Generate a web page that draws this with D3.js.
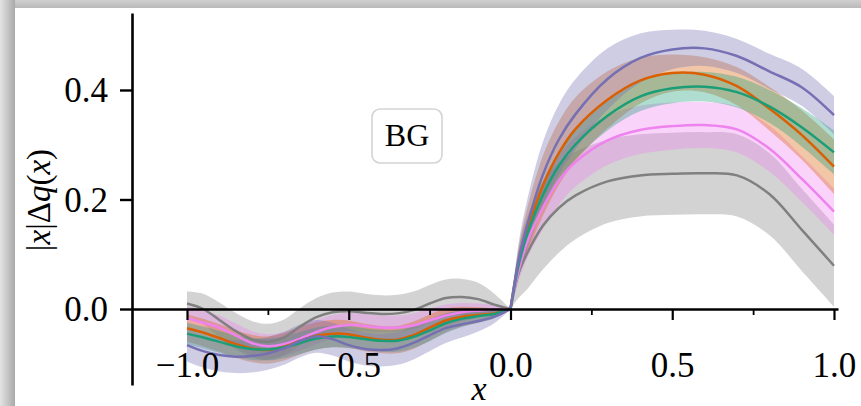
<!DOCTYPE html>
<html>
<head>
<meta charset="utf-8">
<script src="https://cdn.jsdelivr.net/npm/d3@7"></script>
<style>
  html, body { margin: 0; padding: 0; background: #fff; overflow: hidden; }
  svg { display: block; }
  text { font-family: "Liberation Serif", "DejaVu Serif", serif; fill: #000; }
</style>
</head>
<body>
<svg id="chart"></svg>
<script>
// x grid shared by every curve
const xs = [-1, -0.95, -0.9, -0.85, -0.8, -0.75, -0.7, -0.65, -0.6, -0.55, -0.5,
            -0.45, -0.4, -0.35, -0.3, -0.25, -0.2, -0.15, -0.1, -0.05, 0,
            0.025, 0.05, 0.1, 0.15, 0.2, 0.3, 0.4, 0.5, 0.6, 0.7, 0.8, 0.9, 1.0];

// central values and half width of the band
const grayMid = [0.010, 0.0, -0.020, -0.040, -0.055, -0.060, -0.052, -0.032, -0.015, -0.006, -0.004,
                 -0.007, -0.009, -0.008, -0.002, 0.010, 0.020, 0.022, 0.018, 0.008, 0,
                 0.065, 0.10, 0.152, 0.185, 0.207, 0.233, 0.244, 0.247, 0.248, 0.244, 0.210, 0.145, 0.079];
const grayErr = [0.022, 0.028, 0.032, 0.033, 0.033, 0.033, 0.033, 0.034, 0.035, 0.036, 0.036,
                 0.035, 0.034, 0.034, 0.034, 0.034, 0.034, 0.033, 0.030, 0.020, 0,
                 0.045, 0.065, 0.080, 0.082, 0.080, 0.076, 0.075, 0.075, 0.075, 0.075, 0.075, 0.075, 0.075];

const pinkMid = [-0.017, -0.025, -0.034, -0.048, -0.062, -0.068, -0.064, -0.054, -0.042, -0.033, -0.029,
                 -0.031, -0.034, -0.034, -0.030, -0.021, -0.012, -0.006, -0.003, -0.001, 0,
                 0.07, 0.12, 0.185, 0.235, 0.268, 0.308, 0.327, 0.334, 0.336, 0.328, 0.293, 0.238, 0.178];
const pinkErr = [0.022, 0.022, 0.022, 0.022, 0.022, 0.022, 0.022, 0.022, 0.022, 0.022, 0.022,
                 0.022, 0.022, 0.022, 0.022, 0.022, 0.020, 0.017, 0.013, 0.008, 0,
                 0.02, 0.03, 0.04, 0.044, 0.045, 0.045, 0.044, 0.043, 0.042, 0.042, 0.042, 0.042, 0.042];

const orangeMid = [-0.035, -0.043, -0.053, -0.064, -0.072, -0.075, -0.069, -0.058, -0.049, -0.045, -0.046,
                   -0.052, -0.056, -0.056, -0.048, -0.034, -0.021, -0.014, -0.011, -0.008, 0,
                   0.085, 0.14, 0.225, 0.285, 0.328, 0.382, 0.417, 0.431, 0.428, 0.407, 0.366, 0.318, 0.26];
const orangeErr = [0.025, 0.025, 0.025, 0.025, 0.025, 0.025, 0.025, 0.025, 0.025, 0.025, 0.025,
                   0.025, 0.025, 0.025, 0.025, 0.024, 0.022, 0.018, 0.014, 0.009, 0,
                   0.025, 0.04, 0.055, 0.058, 0.058, 0.052, 0.042, 0.034, 0.032, 0.035, 0.04, 0.045, 0.05];

const greenMid = [-0.045, -0.052, -0.060, -0.068, -0.073, -0.074, -0.070, -0.062, -0.054, -0.050, -0.051,
                  -0.055, -0.058, -0.058, -0.051, -0.039, -0.026, -0.018, -0.013, -0.009, 0,
                  0.08, 0.133, 0.208, 0.262, 0.30, 0.353, 0.388, 0.403, 0.406, 0.396, 0.370, 0.332, 0.286];
const greenErr = [0.020, 0.020, 0.020, 0.020, 0.020, 0.020, 0.020, 0.020, 0.020, 0.020, 0.020,
                  0.020, 0.020, 0.020, 0.020, 0.020, 0.018, 0.015, 0.012, 0.008, 0,
                  0.015, 0.02, 0.025, 0.027, 0.027, 0.027, 0.027, 0.027, 0.027, 0.028, 0.030, 0.035, 0.040];

const purpleMid = [-0.066, -0.077, -0.084, -0.087, -0.086, -0.081, -0.072, -0.058, -0.050, -0.055, -0.066,
                   -0.073, -0.075, -0.072, -0.062, -0.048, -0.035, -0.028, -0.022, -0.014, 0,
                   0.09, 0.15, 0.245, 0.31, 0.355, 0.42, 0.458, 0.474, 0.476, 0.462, 0.434, 0.405, 0.354];
const purpleErr = [0.030, 0.030, 0.030, 0.030, 0.030, 0.030, 0.030, 0.030, 0.030, 0.030, 0.030,
                   0.030, 0.030, 0.030, 0.030, 0.029, 0.027, 0.024, 0.019, 0.012, 0,
                   0.03, 0.045, 0.06, 0.064, 0.064, 0.056, 0.045, 0.036, 0.032, 0.031, 0.032, 0.034, 0.035];

const seriesNames = ["gray", "pink", "orange", "green", "purple"];
const seriesColors = ["#808080", "#ee82ee", "#d95f02", "#1b9e77", "#7570b3"];

const yTicks = [0, 0.2, 0.4];
const xTicksMajor = [-1, -0.5, 0, 0.5, 1];
const xTicksMinor = [-0.75, -0.25, 0.25, 0.75];
const panelLabel = "BG";

const W = 861, H = 406;
const svg = d3.select("#chart").attr("width", W).attr("height", H);

// screenshot frame (grey shadow along top and left)
const defs = svg.append("defs");
const gl = defs.append("linearGradient").attr("id", "shadeLeft")
    .attr("x1", 0).attr("x2", 1).attr("y1", 0).attr("y2", 0);
gl.append("stop").attr("offset", "0%").attr("stop-color", "#e4e4e4");
gl.append("stop").attr("offset", "100%").attr("stop-color", "#a9a9a9");
const gt = defs.append("linearGradient").attr("id", "shadeTop")
    .attr("x1", 0).attr("x2", 0).attr("y1", 0).attr("y2", 1);
gt.append("stop").attr("offset", "0%").attr("stop-color", "#cfcfcf");
gt.append("stop").attr("offset", "100%").attr("stop-color", "#b9b9b9");

svg.append("rect").attr("width", W).attr("height", H).attr("fill", "#fff");
svg.append("rect").attr("x", 0).attr("y", 0).attr("width", W).attr("height", 8).attr("fill", "url(#shadeTop)");
svg.append("rect").attr("x", 0).attr("y", 0).attr("width", 15).attr("height", H).attr("fill", "url(#shadeLeft)");

// scales
const x = d3.scaleLinear().domain([-1.17, 1.0124]).range([132, 838]);
const y = d3.scaleLinear().domain([-0.1388, 0.5406]).range([385, 13]);

const chart = svg.append("g");

const series = seriesNames.map((name, i) => {
    const mid = [grayMid, pinkMid, orangeMid, greenMid, purpleMid][i];
    const err = [grayErr, pinkErr, orangeErr, greenErr, purpleErr][i];
    const pts = xs.map((xv, j) => ({x: xv, m: mid[j], lo: mid[j] - err[j], hi: mid[j] + err[j]}));
    return {name, color: seriesColors[i], pts};
});

// split at x = 0 so the kink there stays sharp
const halves = s => [s.pts.filter(p => p.x <= 0), s.pts.filter(p => p.x >= 0)];

const curve = d3.curveCatmullRom.alpha(0.5);
const area = d3.area()
    .x(d => x(d.x))
    .y0(d => y(d.lo))
    .y1(d => y(d.hi))
    .curve(curve);
const line = d3.line()
    .x(d => x(d.x))
    .y(d => y(d.m))
    .curve(curve);

series.forEach(s => {
    halves(s).forEach(h => {
        chart.append("path").attr("d", area(h))
            .attr("fill", s.color).attr("fill-opacity", 0.35).attr("stroke", "none");
    });
});
series.forEach(s => {
    halves(s).forEach(h => {
        chart.append("path").attr("d", line(h))
            .attr("fill", "none").attr("stroke", s.color).attr("stroke-width", 2.5);
    });
});

// axes
const yAxis = svg.append("g").attr("transform", `translate(${x.range()[0]},0)`)
    .call(d3.axisLeft(y).tickValues(yTicks).tickSize(12).tickSizeOuter(0).tickPadding(12)
        .tickFormat(d3.format(".1f")));
yAxis.select(".domain").attr("stroke-width", 2.6);
yAxis.selectAll(".tick line").attr("stroke-width", 2.4);
yAxis.selectAll(".tick text").attr("font-size", 35).attr("font-family", "Liberation Serif").attr("dy", "0.34em");

const xAxis = svg.append("g").attr("transform", `translate(0,${y(0)})`)
    .call(d3.axisBottom(x).tickValues(xTicksMajor).tickSize(11).tickSizeOuter(0)
        .tickFormat(d => d3.format(".1f")(d).replace("-", "\u2212")));
xAxis.select(".domain").attr("stroke-width", 2.6);
xAxis.selectAll(".tick line").attr("stroke-width", 2.2);
xAxis.selectAll(".tick text").attr("font-size", 35).attr("font-family", "Liberation Serif")
    .attr("y", 68).attr("dy", 0);

const xMinor = svg.append("g").attr("transform", `translate(0,${y(0)})`)
    .call(d3.axisBottom(x).tickValues(xTicksMinor).tickSize(6).tickFormat(""));
xMinor.select(".domain").remove();
xMinor.selectAll(".tick line").attr("stroke-width", 1.8);

// axis titles
svg.append("text")
    .attr("x", 479).attr("y", 400)
    .attr("text-anchor", "middle")
    .attr("font-size", 34).attr("font-style", "italic")
    .text("x");

const yTitle = svg.append("text")
    .attr("transform", "translate(50,200) rotate(-90)")
    .attr("text-anchor", "middle")
    .attr("font-size", 33);
[["|", "normal"], ["x", "italic"], ["|", "normal"], ["\u0394", "normal"],
 ["q", "italic"], ["(", "normal"], ["x", "italic"], [")", "normal"]].forEach(([t, st]) => {
    yTitle.append("tspan").attr("font-style", st).text(t);
});

// panel label
const box = svg.append("g").attr("transform", "translate(407,136)");
box.append("rect")
    .attr("x", -35).attr("y", -27).attr("width", 70).attr("height", 54)
    .attr("rx", 8).attr("ry", 8)
    .attr("fill", "#fff").attr("fill-opacity", 0.8)
    .attr("stroke", "#d4d4d4").attr("stroke-width", 1.6);
box.append("text")
    .attr("text-anchor", "middle")
    .attr("y", 10)
    .attr("font-size", 32)
    .text(panelLabel);
</script>
</body>
</html>
